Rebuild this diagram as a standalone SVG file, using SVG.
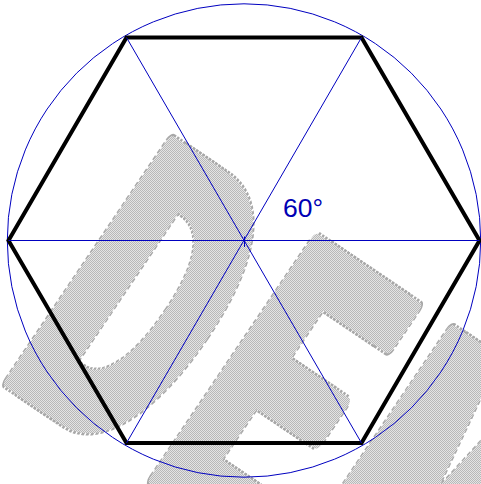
<svg xmlns="http://www.w3.org/2000/svg" width="481" height="484" viewBox="0 0 481 484">
  <style>
    .wm { font-family: "Liberation Sans", Arial, sans-serif; font-weight: bold; font-size: 418px; letter-spacing: 62px; }
    .wmo { fill: none; stroke: #a8a8a8; stroke-width: 19; stroke-dasharray: 5 3; stroke-linejoin: round; }
    .wmm { fill: #ffffff; stroke: #ffffff; stroke-width: 14; stroke-linejoin: round; }
    .guide { fill: none; stroke: #0000c0; stroke-width: 1; }
    .hex { fill: none; stroke: #000000; stroke-width: 4; stroke-linejoin: miter; }
    .lbl { font-family: "Liberation Sans", Arial, sans-serif; font-size: 26.5px; fill: #0000b4; }
  </style>
  <defs>
    <pattern id="checker" patternUnits="userSpaceOnUse" x="0" y="0" width="2" height="2">
      <rect x="0" y="0" width="2" height="2" fill="#e4e4e4"/>
      <rect x="0" y="0" width="1" height="1" fill="#b8b8b8"/>
      <rect x="1" y="1" width="1" height="1" fill="#b8b8b8"/>
    </pattern>
    <mask id="wmmask" maskUnits="userSpaceOnUse" x="0" y="0" width="481" height="484">
      <g transform="translate(-2.5,373) rotate(34) scale(0.48,1)">
        <text class="wm wmm" x="0" y="0">DEMO</text>
        <text class="wm wmm" x="31" y="0">DEMO</text>
      </g>
    </mask>
  </defs>
  <rect x="0" y="0" width="481" height="484" fill="#ffffff"/>
  <g id="watermark">
    <g transform="translate(-2.5,373) rotate(34) scale(0.48,1)">
      <text class="wm wmo" x="0" y="0">DEMO</text>
      <text class="wm wmo" x="31" y="0">DEMO</text>
    </g>
    <rect x="0" y="0" width="481" height="484" fill="url(#checker)" mask="url(#wmmask)"/>
  </g>
  <g id="circle">
    <circle class="guide" cx="244" cy="240.5" r="236.7"/>
  </g>
  <g id="hexagon">
    <polygon class="hex" points="126.5,37.5 361.5,37.5 479.5,240.5 361.5,443 126.5,443 8.5,240.5"/>
  </g>
  <g id="connectors">
    <line class="guide" x1="8.5" y1="240.5" x2="479.5" y2="240.5"/>
    <line class="guide" x1="126.5" y1="37.5" x2="361.5" y2="443"/>
    <line class="guide" x1="361.5" y1="37.5" x2="126.5" y2="443"/>
    <line class="guide" x1="244.5" y1="236.5" x2="244.5" y2="247"/>
  </g>
  <g id="label">
    <text class="lbl" x="283" y="217">60°</text>
  </g>
</svg>
